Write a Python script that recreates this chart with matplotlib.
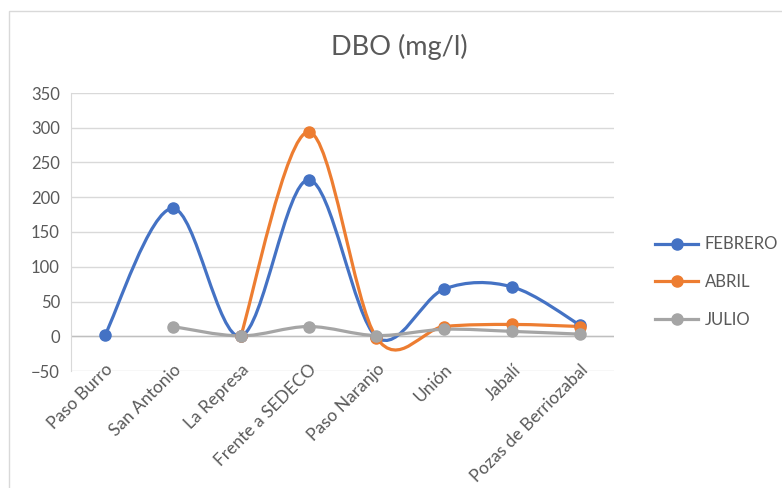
import numpy as np
import matplotlib
matplotlib.use("Agg")
import matplotlib.pyplot as plt
from matplotlib.path import Path
from matplotlib.patches import PathPatch, Rectangle
from matplotlib.lines import Line2D

plt.rcParams['font.family'] = ['Lato', 'DejaVu Sans']

SITES = ["Paso Burro", "San Antonio", "La Represa", "Frente a SEDECO",
         "Paso Naranjo", "Unión", "Jabalí", "Pozas de Berriozabal"]
FEBRERO = [1.5, 184, 0, 225, -1, 68, 71, 16]
ABRIL   = [np.nan, np.nan, 0, 294, -2, 14, 17, 14]
JULIO   = [np.nan, 14, 0.5, 14, 1, 10, 7, 3]
SERIES  = [("FEBRERO", FEBRERO, "#4472C4"),
           ("ABRIL",   ABRIL,   "#ED7D31"),
           ("JULIO",   JULIO,   "#A5A5A5")]
YTICKS  = [-50, 0, 50, 100, 150, 200, 250, 300, 350]
TXT = "#595959"


def smooth_path(xs, ys):
  # excel-ish smoothing: cubic bezier, control points from neighbours / 6
  pts = np.column_stack([xs, ys])
  n = len(pts)
  verts, codes = [pts[0]], [Path.MOVETO]
  for i in range(n - 1):
    p0 = pts[i - 1] if i > 0 else pts[i]
    p1, p2 = pts[i], pts[i + 1]
    p3 = pts[i + 2] if i + 2 < n else pts[i + 1]
    c1 = p1 + (p2 - p0) / 6
    c2 = p2 - (p3 - p1) / 6
    verts += [c1, c2, p2]
    codes += [Path.CURVE4] * 3
  return Path(verts, codes)


fig = plt.figure(figsize=(7.82, 4.88), dpi=100)
fig.patches.append(Rectangle((8.5 / 782, -0.1), 1.2, 1.1 - 11 / 488, transform=fig.transFigure,
                             fill=False, ec="#D9D9D9", lw=1.0))
ax = fig.add_axes([71 / 782, 1 - 371 / 488, 543 / 782, 278 / 488])

x = np.arange(len(SITES))
handles = []
for name, vals, col in SERIES:
  v = np.array(vals, dtype=float)
  ok = ~np.isnan(v)
  ax.add_patch(PathPatch(smooth_path(x[ok], v[ok]), fill=False, ec=col, lw=2.3,
                         capstyle="round", joinstyle="round", zorder=3))
  ax.plot(x[ok], v[ok], ls="none", marker="o", ms=8, color=col, zorder=4)
  handles.append(Line2D([], [], color=col, lw=2.3, marker="o", ms=8))

ax.set_xlim(-0.5, len(SITES) - 0.5)
ax.set_ylim(-50, 350)
ax.set_yticks(YTICKS)
ax.set_xticks(x)
ax.set_xticklabels(SITES, rotation=45, ha="right", rotation_mode="anchor")
ax.tick_params(length=0, colors=TXT)
ax.tick_params(axis="y", pad=8, labelsize=12)
ax.tick_params(axis="x", pad=-7, labelsize=12.5)
ax.grid(axis="y", color="#D9D9D9", lw=1)
ax.axhline(0, color="#BFBFBF", lw=1, zorder=2)
ax.set_axisbelow(True)
for s in ["top", "right", "bottom"]:
  ax.spines[s].set_visible(False)
ax.spines["left"].set_color("#D9D9D9")

fig.text(399 / 782, 1 - 47 / 488, "DBO (mg/l)", ha="center", va="center", fontsize=19.5, color=TXT)
fig.legend(handles, [s[0] for s in SERIES], loc="center left", bbox_to_anchor=(640 / 782, 1 - 282 / 488),
           frameon=False, fontsize=12, labelcolor=TXT, handlelength=2.6, labelspacing=1.3,
           handletextpad=0.4)

fig.savefig("out.png", dpi=100)
